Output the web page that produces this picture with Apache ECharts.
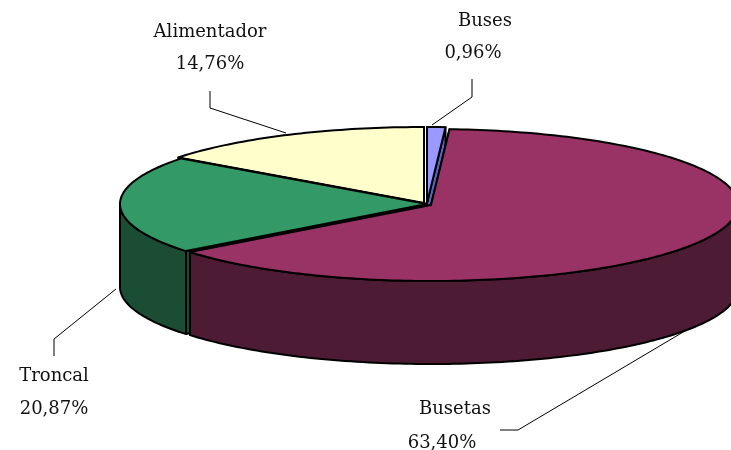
<!DOCTYPE html>
<html><head><meta charset="utf-8">
<style>html,body{margin:0;padding:0;background:#fff}#c{width:731px;height:450px}</style>
<script src="https://cdn.jsdelivr.net/npm/echarts@6/dist/echarts.min.js"></script>
</head><body><div id="c"></div>
<script>
var categories = ['Buses', 'Busetas', 'Troncal', 'Alimentador'];
var shares = [0.96, 63.40, 20.87, 14.76];

// Appearance and layout only
var topColors = ['#9999FF', '#993366', '#339966', '#FFFFCC'];
var wallColors = ['#5A64C0', '#4D1B33', '#1A4D33', '#80805F'];
var centers = [[427, 203], [431, 205], [427, 204], [424, 203]];
var RX = 307, RY = 76, DEPTH = 83;
var drawOrder = [3, 0, 2, 1];
var labelPos = [
  [[485, 21], [473, 53]],
  [[455, 409], [442, 443]],
  [[54, 376], [54, 409]],
  [[210, 32], [210, 64]]
];
var leaders = [
  [[472, 79], [472, 97], [432, 125]],
  [[500, 430], [518, 430], [690, 328]],
  [[54, 356], [54, 339], [116, 289]],
  [[210, 91], [210, 108], [286, 133]]
];

var total = shares.reduce(function (a, b) { return a + b; }, 0);
var starts = [], acc = 0;
shares.forEach(function (v) { starts.push(acc); acc += v; });
function ang(p) { return p / total * Math.PI * 2; }
function rim(c, t, dy) { return [c[0] + RX * Math.sin(t), c[1] - RY * Math.cos(t) + (dy || 0)]; }
function arc(c, a, b, dy) {
  var n = Math.max(2, Math.ceil(Math.abs(b - a) / 0.02)), out = [];
  for (var i = 0; i <= n; i++) out.push(rim(c, a + (b - a) * i / n, dy));
  return out;
}
var stroke = { stroke: '#000', lineWidth: 2, lineJoin: 'round' };
function poly(points, fill) {
  return { type: 'polygon', shape: { points: points }, style: Object.assign({ fill: fill }, stroke) };
}
function renderSlice(params, api) {
  var i = drawOrder[params.dataIndex], v = shares[i], c = centers[i];
  var a = ang(starts[i]), b = ang(starts[i] + v), kids = [];
  var down = function (p) { return [p[0], p[1] + DEPTH]; };
  [a, b].forEach(function (t) {
    var r = rim(c, t);
    kids.push(poly([c, r, down(r), down(c)], wallColors[i]));
  });
  var lo = Math.max(a, Math.PI / 2), hi = Math.min(b, Math.PI * 1.5);
  if (hi > lo) {
    kids.push(poly(arc(c, lo, hi, 0).concat(arc(c, hi, lo, DEPTH)), wallColors[i]));
  }
  kids.push(poly([c].concat(arc(c, a, b, 0)), topColors[i]));
  return { type: 'group', children: kids };
}
function renderLabel(params, api) {
  var i = params.dataIndex;
  var lines = [categories[i], shares[i].toFixed(2).replace('.', ',') + '%'];
  var kids = lines.map(function (t, k) {
    return { type: 'text', style: { text: t, x: labelPos[i][k][0], y: labelPos[i][k][1],
      align: 'center', verticalAlign: 'middle', fill: '#111', font: '18px "DejaVu Serif"' } };
  });
  kids.push({ type: 'polyline', shape: { points: leaders[i] }, style: { stroke: '#000', lineWidth: 1, fill: null } });
  return { type: 'group', children: kids };
}
var chart = echarts.init(document.getElementById('c'), null, { renderer: 'canvas' });
chart.setOption({
  animation: false,
  backgroundColor: '#fff',
  series: [
    { type: 'custom', coordinateSystem: 'none', renderItem: renderSlice, silent: true, z: 2,
      data: drawOrder.map(function (i) { return shares[i]; }) },
    { type: 'custom', coordinateSystem: 'none', renderItem: renderLabel, silent: true, z: 3,
      data: shares }
  ]
});
</script></body></html>
